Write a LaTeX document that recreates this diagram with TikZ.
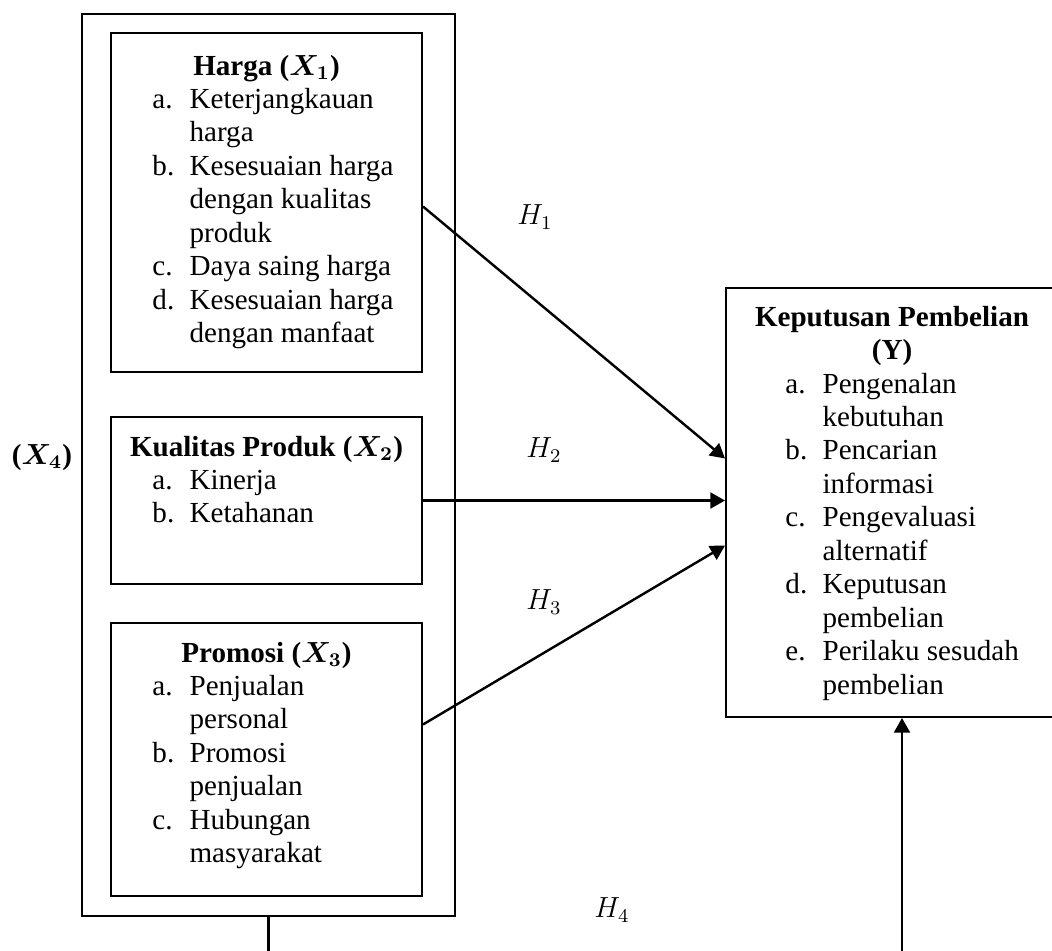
\documentclass[tikz,border=0pt]{standalone}
\usepackage{amsmath}
\usepackage{amssymb}
\usepackage{fontspec}
\setmainfont{Liberation Serif}
\usetikzlibrary{arrows.meta,fit,calc}

\begin{document}
\begin{tikzpicture}[x=0.0145cm,y=-0.0145cm,
        font=\fontsize{12}{13.8}\selectfont,
        box/.style={draw,line width=0.8pt,inner sep=0pt},
        arr/.style={line width=1pt,-{Triangle[length=6pt,width=6.5pt]}},
        title/.style={anchor=base,inner sep=0pt,font=\fontsize{12}{13.8}\selectfont\bfseries},
        items/.style={anchor=base west,inner sep=0pt}]
        \clip (0,0) rectangle (1052,950);
        \useasboundingbox (0,0) rectangle (1052,950);
        % boxes
        \node[box,fit={(82,14) (455,916)}] (x4box) {};
        \node[box,fit={(111,33) (422,372)}] (harga) {};
        \node[box,fit={(111,417) (422,584)}] (kualitas) {};
        \node[box,fit={(111,623) (422,896)}] (promosi) {};
        \node[box,fit={(726,288) (1078,717)}] (keputusan) {};
        % texts
        \node[anchor=base,inner sep=0pt] (x4) at (42,464) {\textbf{(}$\boldsymbol{X_4}$\textbf{)}};
        \node[title] (hargatitle) at (266.5,75) {Harga ($\boldsymbol{X_1}$)};
        \node[items] (hargaitems) at (152,108.5) {\begin{tabular}[t]{@{}p{15.3pt}@{}l@{}}
            a. & Keterjangkauan\\
               & harga\\
            b. & Kesesuaian harga\\
               & dengan kualitas\\
               & produk\\
            c. & Daya saing harga\\
            d. & Kesesuaian harga\\
               & dengan manfaat
        \end{tabular}};
        \node[title] (kualitastitle) at (266.5,456) {Kualitas Produk ($\boldsymbol{X_2}$)};
        \node[items] (kualitasitems) at (152,489.5) {\begin{tabular}[t]{@{}p{15.3pt}@{}l@{}}
            a. & Kinerja\\
            b. & Ketahanan
        \end{tabular}};
        \node[title] (promosititle) at (266.5,662) {Promosi ($\boldsymbol{X_3}$)};
        \node[items] (promosiitems) at (152,695.5) {\begin{tabular}[t]{@{}p{15.3pt}@{}l@{}}
            a. & Penjualan\\
               & personal\\
            b. & Promosi\\
               & penjualan\\
            c. & Hubungan\\
               & masyarakat
        \end{tabular}};
        \node[title] (keputusantitle) at (892,326) {\begin{tabular}[t]{@{}c@{}}
            Keputusan Pembelian\\
            (Y)
        \end{tabular}};
        \node[items] (keputusanitems) at (785,393) {\begin{tabular}[t]{@{}p{15.3pt}@{}l@{}}
            a. & Pengenalan\\
               & kebutuhan\\
            b. & Pencarian\\
               & informasi\\
            c. & Pengevaluasi\\
               & alternatif\\
            d. & Keputusan\\
               & pembelian\\
            e. & Perilaku sesudah\\
               & pembelian
        \end{tabular}};
        % hypotheses
        \draw[arr] ($(harga.east)+(0,4)$) -- ($(keputusan.west)+(0,-44)$);
        \draw[arr] (kualitas.east) -- (kualitas.east -| keputusan.west);
        \draw[arr] ($(promosi.east)+(0,-35)$) -- ($(keputusan.west)+(0,43)$);
        \draw[arr] (x4box.south) -- ++(0,70) -| (keputusan.south);
        \node (h1) at (535,217) {$H_1$};
        \node (h2) at (544,450) {$H_2$};
        \node (h3) at (544,602) {$H_3$};
        \node (h4) at (612,910) {$H_4$};
    \end{tikzpicture}
\end{document}
